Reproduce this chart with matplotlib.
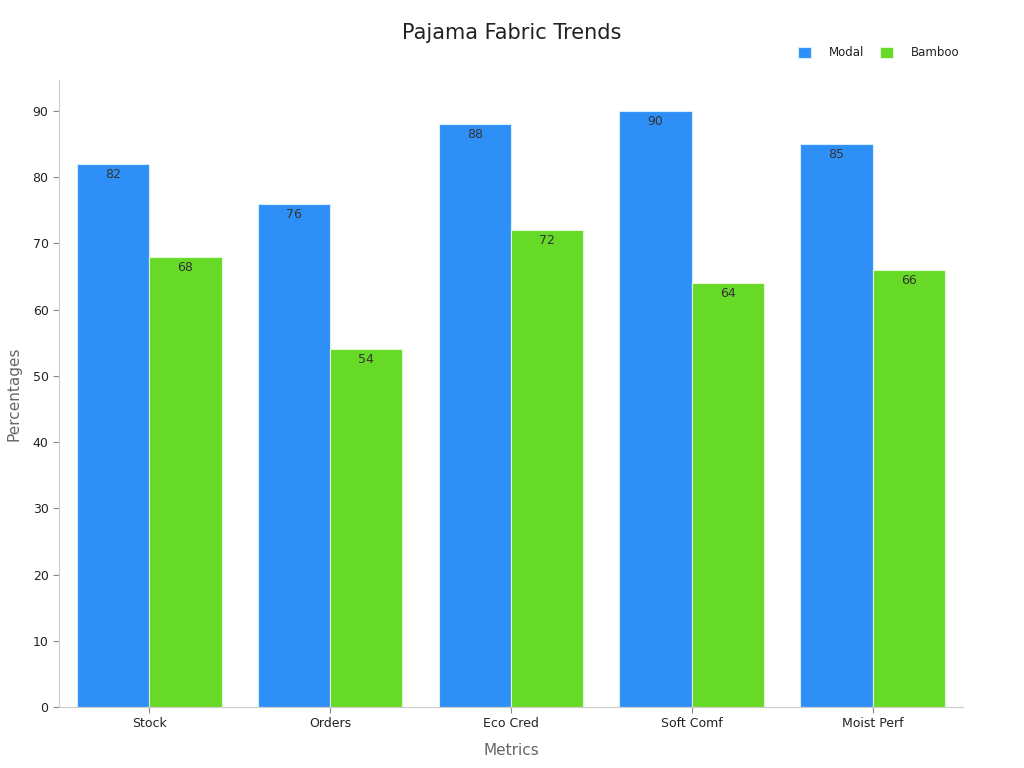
import numpy as np
import matplotlib.pyplot as plt

categories = ['Stock', 'Orders', 'Eco Cred', 'Soft Comf', 'Moist Perf']
modal = [82, 76, 88, 90, 85]
bamboo = [68, 54, 72, 64, 66]

fig = plt.figure(figsize=(10.24, 7.68), dpi=100)
ax = fig.add_axes([0.0576, 0.0794, 0.8828, 0.8166])

x = np.arange(len(categories))
w = 0.4
b1 = ax.bar(x - w / 2, modal, w, color='#2E90F7', edgecolor='#D6ECFF', linewidth=0.8, label='Modal')
b2 = ax.bar(x + w / 2, bamboo, w, color='#66DA26', edgecolor='#E4F8D6', linewidth=0.8, label='Bamboo')

for bars in (b1, b2):
    for bar in bars:
        h = bar.get_height()
        ax.text(bar.get_x() + bar.get_width() / 2, h - 0.6, '%d' % h,
                ha='center', va='top', fontsize=9, color='#333333')

ax.set_xlim(-0.5, 4.5)
ax.set_ylim(0, 94.7)
ax.set_yticks(range(0, 91, 10))
ax.set_xticks(x)
ax.set_xticklabels(categories)
ax.tick_params(axis='both', labelsize=9, colors='#222222', length=4, width=0.8)
ax.tick_params(axis='both', color='#888888')

for side in ('top', 'right'):
    ax.spines[side].set_visible(False)
for side in ('left', 'bottom'):
    ax.spines[side].set_color('#CCCCCC')

ax.set_xlabel('Metrics', fontsize=11, color='#666666', labelpad=9)
ax.set_ylabel('Percentages', fontsize=11, color='#666666', labelpad=8)
fig.text(0.5, 0.957, 'Pajama Fabric Trends', ha='center', va='center', fontsize=15, color='#222222')

ax.legend(loc='center right', bbox_to_anchor=(0.947, 1 - 53 / 768), bbox_transform=fig.transFigure,
          ncol=2, frameon=False, fontsize=8.5, handlelength=1.1, handleheight=1.1,
          columnspacing=1.3, handletextpad=1.5, labelcolor='#222222')

fig.savefig('out.png', dpi=100)
